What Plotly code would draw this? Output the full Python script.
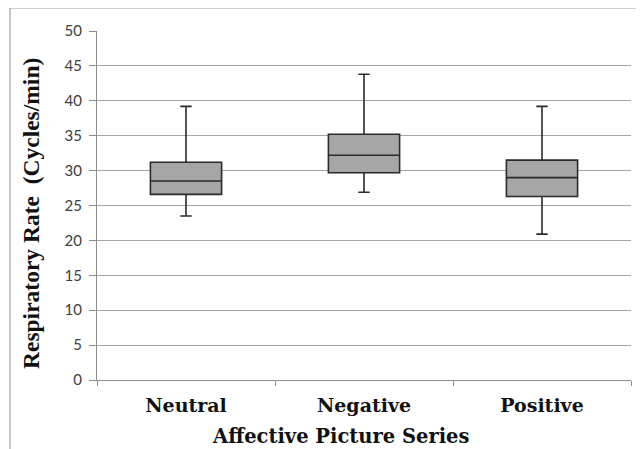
import plotly.graph_objects as go

categories = ["Neutral", "Negative", "Positive"]
lower_whisker = [23.5, 26.9, 20.9]
q1 = [26.6, 29.7, 26.3]
median = [28.5, 32.2, 29.0]
q3 = [31.2, 35.2, 31.5]
upper_whisker = [39.2, 43.8, 39.2]
y_ticks = list(range(0, 55, 5))

# page body margin offsets the figure by 8px
OFF = 8
W, H = 644 - OFF, 449 - OFF
L, R, T, B = 97 - OFF, 13, 31 - OFF, 69
pw, ph = W - L - R, H - T - B

def px(x):
    return (x - OFF - L) / pw

def py(y):
    return (H - B - (y - OFF)) / ph

fig = go.Figure()
fig.add_trace(go.Box(
    x=categories,
    q1=q1, median=median, q3=q3,
    lowerfence=lower_whisker, upperfence=upper_whisker,
    boxpoints=False,
    width=0.4,
    whiskerwidth=0.16,
    fillcolor="#a6a6a6",
    line=dict(color="#2b2b2b", width=1.6),
    showlegend=False,
    hoverinfo="skip",
))

fig.update_layout(
    width=W, height=H,
    margin=dict(l=L, r=R, t=T, b=B),
    paper_bgcolor="white", plot_bgcolor="white",
    xaxis=dict(
        type="category",
        categoryorder="array", categoryarray=categories,
        range=[-0.5, 2.5], autorange=False,
        showline=True, linecolor="#8c8c8c", linewidth=1.2,
        ticks="outside", ticklen=5, tickcolor="#8c8c8c", tickson="boundaries",
        showgrid=False,
        tickfont=dict(family="DejaVu Serif", size=19, color="#111111", weight="bold"),
        ticklabelstandoff=8,
    ),
    yaxis=dict(
        range=[0, 50], autorange=False,
        tickvals=y_ticks,
        showline=True, linecolor="#8c8c8c", linewidth=1.2,
        ticks="outside", ticklen=7, tickcolor="#8c8c8c",
        showgrid=True, gridcolor="#a6a6a6", gridwidth=1.2,
        zeroline=False,
        tickfont=dict(family="Lato", size=15, color="#404040"),
        ticklabelstandoff=4,
    ),
    annotations=[
        dict(text="<b>Affective Picture Series</b>", xref="paper", yref="paper",
             x=px(341), y=py(436), xanchor="center", yanchor="middle",
             showarrow=False, font=dict(family="DejaVu Serif", size=19.5, color="#111111")),
        dict(text="<b>Respiratory Rate  (Cycles/min)</b>", xref="paper", yref="paper",
             x=px(31), y=py(214), xanchor="center", yanchor="middle", textangle=-90,
             showarrow=False, font=dict(family="Liberation Serif", size=23.5, color="#111111")),
    ],
    shapes=[
        dict(type="line", xref="paper", yref="paper", x0=px(10), x1=px(10), y0=py(8), y1=py(449),
             line=dict(color="#a0a0a0", width=1.2)),
        dict(type="line", xref="paper", yref="paper", x0=px(10), x1=px(644), y0=py(8), y1=py(8),
             line=dict(color="#a0a0a0", width=1.2)),
    ],
)

fig.write_html("out.html")
